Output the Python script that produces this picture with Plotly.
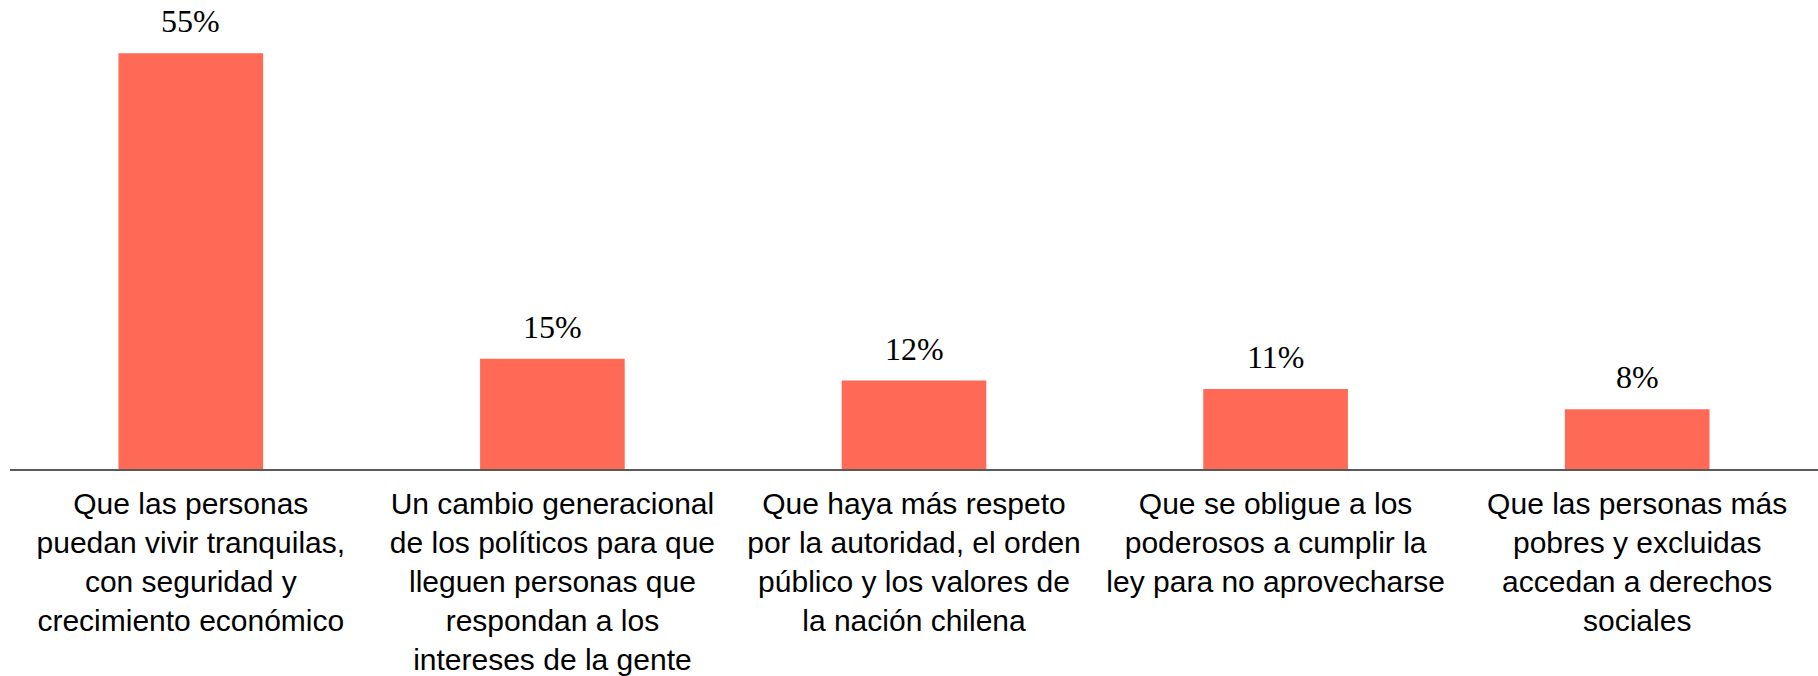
import plotly.graph_objects as go

categories = ["c1", "c2", "c3", "c4", "c5"]
tick_labels = [
    "Que las personas<br>puedan vivir tranquilas,<br>con seguridad y<br>crecimiento económico",
    "Un cambio generacional<br>de los políticos para que<br>lleguen personas que<br>respondan a los<br>intereses de la gente",
    "Que haya más respeto<br>por la autoridad, el orden<br>público y los valores de<br>la nación chilena",
    "Que se obligue a los<br>poderosos a cumplir la<br>ley para no aprovecharse",
    "Que las personas más<br>pobres y excluidas<br>accedan a derechos<br>sociales",
]
values = [55.0, 14.6, 11.7, 10.6, 7.9]
value_labels = ["55%", "15%", "12%", "11%", "8%"]

BAR_COLOR = "#FF6A56"
SERIF = "Palatino Linotype, Book Antiqua, Palatino, Liberation Serif, serif"
SANS = "Arial, Liberation Sans, sans-serif"

fig = go.Figure()
fig.add_trace(go.Bar(x=categories, y=values, marker=dict(color=BAR_COLOR, line=dict(width=0)),
                     hoverinfo="skip"))

for c, v, t in zip(categories, values, value_labels):
    fig.add_annotation(x=c, y=v, text=t, showarrow=False, yanchor="bottom", yshift=12,
                       font=dict(family=SERIF, size=32, color="#000000"))

fig.update_layout(
    width=1818, height=676,
    margin=dict(l=10, r=0, t=20, b=202),
    paper_bgcolor="white", plot_bgcolor="white",
    bargap=0.6, showlegend=False,
    xaxis=dict(tickmode="array", tickvals=categories, ticktext=tick_labels,
               showline=True, linecolor="#595959", linewidth=2, ticks="",
               showgrid=False, zeroline=False, ticklabelstandoff=7,
               tickfont=dict(family=SANS, size=30, color="#000000")),
    yaxis=dict(range=[0, 59.4], visible=False, showgrid=False, zeroline=False),
)

fig.write_html("out.html", config={"displayModeBar": False},
               post_script="document.body.style.margin='0';")
